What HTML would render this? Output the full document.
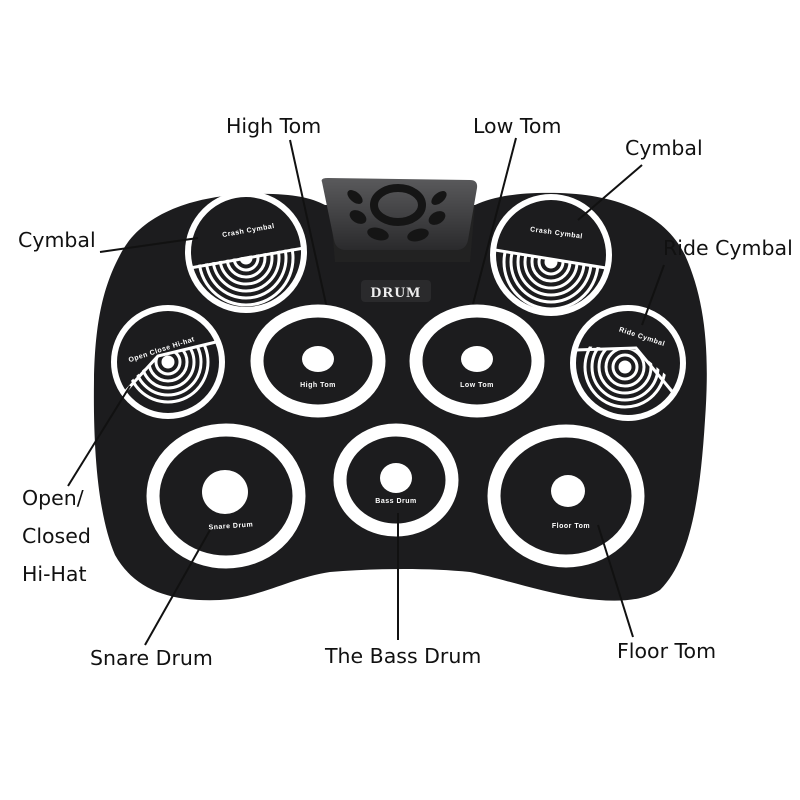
<!DOCTYPE html>
<html><head><meta charset="utf-8"><style>
html,body{margin:0;padding:0;background:#fff;}
svg{display:block}
.lbl{font-family:"DejaVu Sans","Liberation Sans",sans-serif;font-size:20.5px;fill:#111;}
.pl{font-family:"Liberation Sans",sans-serif;font-size:7px;font-weight:bold;fill:#fff;letter-spacing:0.5px}
</style></head><body>
<svg width="800" height="800" viewBox="0 0 800 800" xmlns="http://www.w3.org/2000/svg">
<defs>
<linearGradient id="pan" x1="0" y1="0" x2="0" y2="1"><stop offset="0" stop-color="#5a5a5c"/><stop offset="1" stop-color="#2a2a2c"/></linearGradient>
<clipPath id="c1"><polygon points="180,268 312,245 312,330 180,330"/></clipPath>
<clipPath id="c2"><polygon points="110,420 110,400 158,356 225,340 225,420"/></clipPath>
<clipPath id="c3"><polygon points="488,250 615,268 615,330 488,330"/></clipPath>
<clipPath id="c4"><polygon points="570,345 636,350 690,395 690,420 570,420"/></clipPath>
</defs>
<!-- mat -->
<path d="M120,255 C140,215 190,196 250,194 C290,193 310,197 325,205 L475,205 C495,196 520,192 560,193 C620,195 665,215 685,255 C705,300 710,350 705,420 C700,500 690,560 660,590 C640,603 610,602 580,598 C540,592 500,578 470,572 C430,568 380,568 330,572 C290,578 260,598 220,600 C170,602 135,590 115,555 C98,515 93,450 94,380 C95,320 104,285 120,255 Z" fill="#1c1c1e"/>
<!-- control panel -->
<path d="M330,205 L475,205 L470,262 L335,262 Z" fill="#222"/>
<path d="M322,182 Q320,178 328,178 L470,180 Q478,180 477,188 L468,240 Q466,250 456,250 L346,250 Q336,250 334,240 Z" fill="url(#pan)"/>
<g fill="#151515">
<ellipse cx="398" cy="205" rx="24" ry="17" fill="none" stroke="#151515" stroke-width="8"/>
<ellipse cx="355" cy="197" rx="9" ry="5" transform="rotate(40 355 197)"/>
<ellipse cx="358" cy="217" rx="9" ry="6" transform="rotate(30 358 217)"/>
<ellipse cx="378" cy="234" rx="11" ry="6" transform="rotate(15 378 234)"/>
<ellipse cx="418" cy="235" rx="11" ry="6" transform="rotate(-15 418 235)"/>
<ellipse cx="437" cy="218" rx="9" ry="6" transform="rotate(-30 437 218)"/>
<ellipse cx="439" cy="198" rx="9" ry="5" transform="rotate(-40 439 198)"/>
</g>
<rect x="361" y="280" width="70" height="22" rx="4" fill="#2a2a2c"/>
<text x="396" y="297" text-anchor="middle" font-family="Liberation Serif,serif" font-weight="bold" font-size="15" fill="#eee" letter-spacing="1">DRUM</text>
<!-- crash left -->
<g>
<circle cx="246" cy="252" r="58" fill="#1c1c1e" stroke="#fff" stroke-width="6"/>
<line x1="190" y1="268" x2="304" y2="248" stroke="#fff" stroke-width="3"/>
<g clip-path="url(#c1)" fill="none" stroke="#fff" stroke-width="3">
<circle cx="246" cy="258" r="5" fill="#fff"/><circle cx="246" cy="258" r="12"/><circle cx="246" cy="258" r="19"/><circle cx="246" cy="258" r="26"/><circle cx="246" cy="258" r="33"/><circle cx="246" cy="258" r="40"/><circle cx="246" cy="258" r="47"/>
</g>
<text class="pl" x="222" y="234" transform="rotate(-10 240 232)">Crash Cymbal</text>
</g>
<!-- crash right -->
<g>
<circle cx="551" cy="255" r="58" fill="#1c1c1e" stroke="#fff" stroke-width="6"/>
<line x1="495" y1="250" x2="606" y2="268" stroke="#fff" stroke-width="3"/>
<g clip-path="url(#c3)" fill="none" stroke="#fff" stroke-width="3">
<circle cx="551" cy="262" r="5" fill="#fff"/><circle cx="551" cy="262" r="12"/><circle cx="551" cy="262" r="19"/><circle cx="551" cy="262" r="26"/><circle cx="551" cy="262" r="33"/><circle cx="551" cy="262" r="40"/><circle cx="551" cy="262" r="47"/>
</g>
<text class="pl" x="530" y="234" transform="rotate(8 550 232)">Crash Cymbal</text>
</g>
<!-- hi-hat -->
<g>
<circle cx="168" cy="362" r="54" fill="#1c1c1e" stroke="#fff" stroke-width="6"/>
<polyline points="125,392 158,356 216,342" fill="none" stroke="#fff" stroke-width="3"/>
<g clip-path="url(#c2)" fill="none" stroke="#fff" stroke-width="3">
<circle cx="168" cy="362" r="5" fill="#fff"/><circle cx="168" cy="362" r="12"/><circle cx="168" cy="362" r="19"/><circle cx="168" cy="362" r="26"/><circle cx="168" cy="362" r="33"/><circle cx="168" cy="362" r="40"/>
</g>
<text class="pl" x="125" y="355" transform="rotate(-18 150 345)">Open Close Hi-hat</text>
</g>
<!-- ride -->
<g>
<circle cx="628" cy="363" r="55" fill="#1c1c1e" stroke="#fff" stroke-width="6"/>
<polyline points="575,350 636,348 675,395" fill="none" stroke="#fff" stroke-width="3"/>
<g clip-path="url(#c4)" fill="none" stroke="#fff" stroke-width="3">
<circle cx="625" cy="367" r="5" fill="#fff"/><circle cx="625" cy="367" r="12"/><circle cx="625" cy="367" r="19"/><circle cx="625" cy="367" r="26"/><circle cx="625" cy="367" r="33"/><circle cx="625" cy="367" r="40"/>
</g>
<text class="pl" x="618" y="335" transform="rotate(18 630 335)">Ride Cymbal</text>
</g>
<!-- toms -->
<g fill="#1c1c1e" stroke="#fff" stroke-width="13">
<ellipse cx="318" cy="361" rx="61" ry="50"/>
<ellipse cx="477" cy="361" rx="61" ry="50"/>
<ellipse cx="226" cy="496" rx="73" ry="66"/>
<ellipse cx="396" cy="480" rx="56" ry="50"/>
<ellipse cx="566" cy="496" rx="72" ry="65"/>
</g>
<g fill="#fff">
<ellipse cx="318" cy="359" rx="16" ry="13"/>
<ellipse cx="477" cy="359" rx="16" ry="13"/>
<ellipse cx="225" cy="492" rx="23" ry="22"/>
<ellipse cx="396" cy="478" rx="16" ry="15"/>
<ellipse cx="568" cy="491" rx="17" ry="16"/>
</g>
<text class="pl" x="318" y="387" text-anchor="middle">High Tom</text>
<text class="pl" x="477" y="387" text-anchor="middle">Low Tom</text>
<text class="pl" x="231" y="528" text-anchor="middle" transform="rotate(-4 231 528)">Snare Drum</text>
<text class="pl" x="396" y="503" text-anchor="middle">Bass Drum</text>
<text class="pl" x="571" y="528" text-anchor="middle">Floor Tom</text>
<!-- leader lines -->
<g stroke="#111" stroke-width="2">
<line x1="290" y1="140" x2="326" y2="304"/>
<line x1="516" y1="138" x2="473" y2="304"/>
<line x1="642" y1="165" x2="578" y2="220"/>
<line x1="664" y1="265" x2="642" y2="325"/>
<line x1="100" y1="252" x2="198" y2="238"/>
<line x1="68" y1="486" x2="130" y2="386"/>
<line x1="145" y1="645" x2="210" y2="530"/>
<line x1="398" y1="640" x2="398" y2="513"/>
<line x1="633" y1="637" x2="598" y2="525"/>
</g>
<!-- labels -->
<text class="lbl" x="226" y="133">High Tom</text>
<text class="lbl" x="473" y="133">Low Tom</text>
<text class="lbl" x="625" y="155">Cymbal</text>
<text class="lbl" x="663" y="255">Ride Cymbal</text>
<text class="lbl" x="18" y="247">Cymbal</text>
<text class="lbl" x="22" y="505">Open/</text>
<text class="lbl" x="22" y="543">Closed</text>
<text class="lbl" x="22" y="581">Hi-Hat</text>
<text class="lbl" x="90" y="665">Snare Drum</text>
<text class="lbl" x="325" y="663">The Bass Drum</text>
<text class="lbl" x="617" y="658">Floor Tom</text>
</svg>
</body></html>
